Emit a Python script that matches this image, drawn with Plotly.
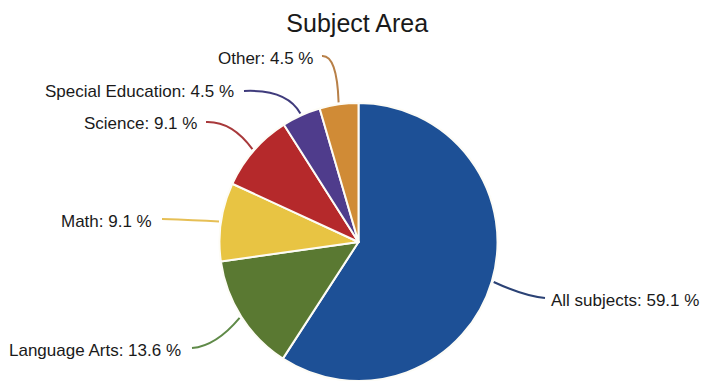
import math
import plotly.graph_objects as go

# ---- data ----
categories = ["All subjects", "Language Arts", "Math", "Science", "Special Education", "Other"]
values = [59.1, 13.6, 9.1, 9.1, 4.5, 4.5]
colors = ["#1d5096", "#5a7932", "#e8c443", "#b5292b", "#4f3c8c", "#d08b36"]
line_colors = ["#2b4275", "#5f8a48", "#e6bf55", "#a8393b", "#3f3b7c", "#b88048"]

# ---- layout (pixel space helpers) ----
W, H = 706, 381
cx, cy, R = 358.5, 242.0, 139.0

# label placement: (x, y, xanchor), leader start, leader control point
label_pos = [(549, 300, "left"), (183, 350, "right"), (154, 221, "right"),
             (199, 123, "right"), (236, 91, "right"), (315, 58, "right")]
lead_start = [None, (192, 348), (162, 219), (206, 122), (244, 91), (322, 56)]
lead_ctrl = [(524, 296), (216, 346), (195, 220), (232, 121), (287, 89), (337, 55)]

fig = go.Figure()
fig.add_trace(go.Pie(
    labels=categories, values=values, sort=False, direction="clockwise",
    rotation=0, marker=dict(colors=colors, line=dict(color="#fdfcf6", width=2)),
    textinfo="none", hoverinfo="label+percent", showlegend=False,
    domain=dict(x=[(cx - R) / W, (cx + R) / W], y=[0, (2 * R) / H]),
))

# invisible pixel-space axes for labels and leader lines
fig.add_trace(go.Scatter(x=[0, W], y=[0, H], mode="markers",
                         marker=dict(opacity=0), hoverinfo="skip", showlegend=False))

total = sum(values)
cum = 0.0
shapes = []
annotations = []
for i, (cat, v) in enumerate(zip(categories, values)):
    mid = (cum + v / 2) / total * 2 * math.pi
    cum += v
    tx = cx + (R + 2) * math.sin(mid)
    ty = cy - (R + 2) * math.cos(mid)
    lx, ly, anc = label_pos[i]
    qx, qy = lead_ctrl[i]
    if lead_start[i] is None:
        sx, sy = tx, ty
        ex, ey = 545, 298
    else:
        sx, sy = lead_start[i]
        ex, ey = tx, ty
    shapes.append(dict(type="path", xref="x", yref="y",
                       path=f"M {sx:.1f},{sy:.1f} Q {qx},{qy} {ex:.1f},{ey:.1f}",
                       line=dict(color=line_colors[i], width=2)))
    annotations.append(dict(x=lx, y=ly, xref="x", yref="y", xanchor=anc, yanchor="middle",
                            text=f"{cat}: {v} %", showarrow=False,
                            font=dict(family="Liberation Sans, Arial, sans-serif", size=17, color="#1a1a1a")))

fig.update_layout(
    width=W, height=H,
    margin=dict(l=0, r=0, t=0, b=0),
    paper_bgcolor="white", plot_bgcolor="rgba(0,0,0,0)",
    title=dict(text="Subject Area", x=0.506, xanchor="center", y=0.94, yanchor="middle",
               yref="container",
               font=dict(family="Liberation Sans, Arial, sans-serif", size=25, color="#1a1a1a")),
    xaxis=dict(range=[0, W], visible=False, fixedrange=True),
    yaxis=dict(range=[H, 0], visible=False, fixedrange=True),
    shapes=shapes, annotations=annotations,
)

fig.write_html("out.html", config={"displayModeBar": False},
               post_script="document.body.style.margin='0';document.body.style.overflow='hidden';")
